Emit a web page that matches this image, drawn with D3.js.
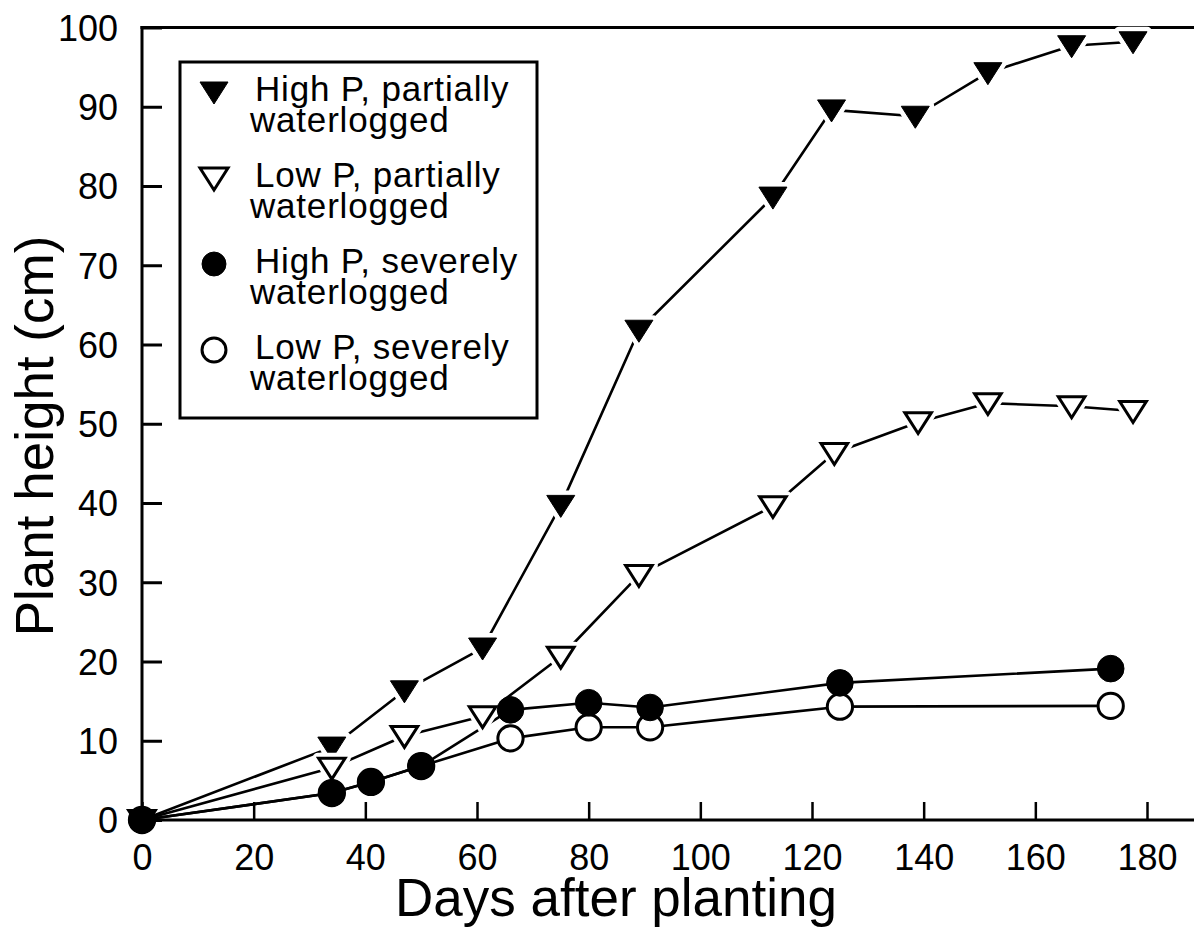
<!DOCTYPE html>
<html>
<head>
<meta charset="utf-8">
<script src="https://cdn.jsdelivr.net/npm/d3@7"></script>
<style>
  body { margin: 0; background: #fff; }
  svg text { font-family: "Liberation Sans", Arial, Helvetica, sans-serif; fill: #000; }
</style>
</head>
<body>
<svg id="chart" width="1194" height="931"></svg>
<script>
// Axis ticks
const xTickValues = [0, 20, 40, 60, 80, 100, 120, 140, 160, 180];
const yTickValues = [0, 10, 20, 30, 40, 50, 60, 70, 80, 90, 100];

// Plant height (cm) against days after planting, one pair of arrays per treatment
const highPartialDays   = [0, 34, 47, 61, 75, 89, 113, 123.5, 138.5, 151.5, 166.5, 177.5];
const highPartialHeight = [0, 9.2, 16.3, 21.7, 39.7, 61.8, 78.6, 89.6, 88.8, 94.3, 97.7, 98.2];

const lowPartialDays    = [0, 34, 47, 61, 75, 89, 113, 124, 139, 151.5, 166.5, 177.5];
const lowPartialHeight  = [0, 6.6, 10.6, 13.1, 20.6, 30.9, 39.6, 46.3, 50.2, 52.6, 52.2, 51.6];

const highSevereDays    = [0, 34, 41, 50, 66, 80, 91, 125, 173.5];
const highSevereHeight  = [0, 3.4, 4.8, 6.8, 13.9, 14.8, 14.2, 17.3, 19.1];

const lowSevereDays     = [0, 34, 41, 50, 66, 80, 91, 125, 173.5];
const lowSevereHeight   = [0, 3.4, 4.8, 6.8, 10.3, 11.7, 11.7, 14.3, 14.4];

const legendLabels = [
  ["High P, partially", "waterlogged"],
  ["Low P, partially", "waterlogged"],
  ["High P, severely", "waterlogged"],
  ["Low P, severely", "waterlogged"]
];

const xTitle = "Days after planting";
const yTitle = "Plant height (cm)";

// ---------------------------------------------------------------
const svg = d3.select("#chart");
const plotLeft = 142, plotTop = 27.5, plotBottom = 820, plotRight = 1147, frameRight = 1210;

const x = d3.scaleLinear().domain([0, 180]).range([plotLeft, plotRight]);
const y = d3.scaleLinear().domain([0, 100]).range([plotBottom, plotTop]);

const zip = (d, h) => d.map((v, i) => ({ day: v, h: h[i] }));
const series = [
  { key: "hp", data: zip(highPartialDays, highPartialHeight), shape: "triDown", filled: true },
  { key: "lp", data: zip(lowPartialDays, lowPartialHeight), shape: "triDown", filled: false },
  { key: "ls", data: zip(lowSevereDays, lowSevereHeight), shape: "circle", filled: false },
  { key: "hs", data: zip(highSevereDays, highSevereHeight), shape: "circle", filled: true }
];

// marker path generators (centered at 0,0)
function markerPath(shape, scale) {
  if (shape === "triDown") {
    const w = 14 * scale, hTop = 10 * scale, hBot = 12 * scale;
    return `M${-w},${-hTop}L${w},${-hTop}L0,${hBot}Z`;
  }
  const r = 13.3 * scale;
  return `M${r},0A${r},${r},0,1,1,${-r},0A${r},${r},0,1,1,${r},0Z`;
}

// Axes frame
const frame = svg.append("g").attr("fill", "none").attr("stroke", "#000").attr("stroke-width", 3);
frame.append("line").attr("x1", plotLeft).attr("x2", plotLeft).attr("y1", plotTop - 1.5).attr("y2", plotBottom + 1.5);
frame.append("line").attr("x1", plotLeft - 1.5).attr("x2", frameRight).attr("y1", plotBottom).attr("y2", plotBottom);
frame.append("line").attr("x1", plotLeft - 1.5).attr("x2", frameRight).attr("y1", plotTop).attr("y2", plotTop);

// Y axis, ticks pointing inward
const yAxis = svg.append("g")
  .attr("transform", `translate(${plotLeft},0)`)
  .call(d3.axisLeft(y).tickValues(yTickValues).tickSize(-20).tickPadding(24).tickFormat(d3.format("d")));
yAxis.select(".domain").remove();
yAxis.selectAll(".tick line").attr("stroke", "#000").attr("stroke-width", 3);
yAxis.selectAll(".tick text").style("font-size", "36px").attr("dy", "0.36em");

// X axis, ticks pointing inward
const xAxis = svg.append("g")
  .attr("transform", `translate(0,${plotBottom})`)
  .call(d3.axisBottom(x).tickValues(xTickValues).tickSize(-18).tickPadding(24).tickFormat(d3.format("d")));
xAxis.select(".domain").remove();
xAxis.selectAll(".tick line").attr("stroke", "#000").attr("stroke-width", 2.5);
xAxis.selectAll(".tick text").style("font-size", "36px");

// Axis titles
svg.append("text")
  .attr("x", 616).attr("y", 916)
  .attr("text-anchor", "middle")
  .style("font-size", "53px")
  .text(xTitle);

svg.append("text")
  .attr("transform", "translate(53,436) rotate(-90)")
  .attr("text-anchor", "middle")
  .style("font-size", "53px")
  .text(yTitle);

// Lines
const line = d3.line().x(d => x(d.day)).y(d => y(d.h));
const linesG = svg.append("g");
series.forEach(s => {
  linesG.append("path")
    .datum(s.data)
    .attr("d", line)
    .attr("fill", "none")
    .attr("stroke", "#000")
    .attr("stroke-width", 2.6)
    .attr("stroke-linejoin", "round");
});

// Markers
series.forEach(s => {
  const g = svg.append("g");
  if (s.shape === "triDown") {
    // white halo so the connecting lines stop short of each triangle
    g.selectAll("path.halo").data(s.data.filter(d => d.day > 0)).join("path")
      .attr("class", "halo")
      .attr("transform", d => `translate(${x(d.day)},${y(d.h)})`)
      .attr("d", markerPath(s.shape, 1))
      .attr("fill", "#fff").attr("stroke", "#fff").attr("stroke-width", 10)
      .attr("stroke-linejoin", "round");
  }
  g.selectAll("path.mk").data(s.data).join("path")
    .attr("class", "mk")
    .attr("transform", d => `translate(${x(d.day)},${y(d.h)})`)
    .attr("d", markerPath(s.shape, s.filled ? 1 : 0.95))
    .attr("fill", s.filled ? "#000" : "#fff")
    .attr("stroke", "#000")
    .attr("stroke-width", s.filled ? 1 : 3)
    .attr("stroke-linejoin", "miter");
});

// Legend
const legend = svg.append("g");
legend.append("rect")
  .attr("x", 180).attr("y", 62).attr("width", 357).attr("height", 356)
  .attr("fill", "#fff").attr("stroke", "#000").attr("stroke-width", 3);

const legendOrder = [series[0], series[1], series[3], series[2]];
legendOrder.forEach((s, i) => {
  const base = 101 + i * 86;
  legend.append("path")
    .attr("transform", `translate(214,${base - 9})`)
    .attr("d", markerPath(s.shape, s.shape === "circle" ? 0.9 : 1))
    .attr("fill", s.filled ? "#000" : "#fff")
    .attr("stroke", "#000")
    .attr("stroke-width", s.filled ? 1 : 3);
  const t = legend.append("text").style("font-size", "35px").style("letter-spacing", "0.8px");
  t.append("tspan").attr("x", 255).attr("y", base).text(legendLabels[i][0]);
  t.append("tspan").attr("x", 250).attr("y", base + 31).text(legendLabels[i][1]);
});
</script>
</body>
</html>
